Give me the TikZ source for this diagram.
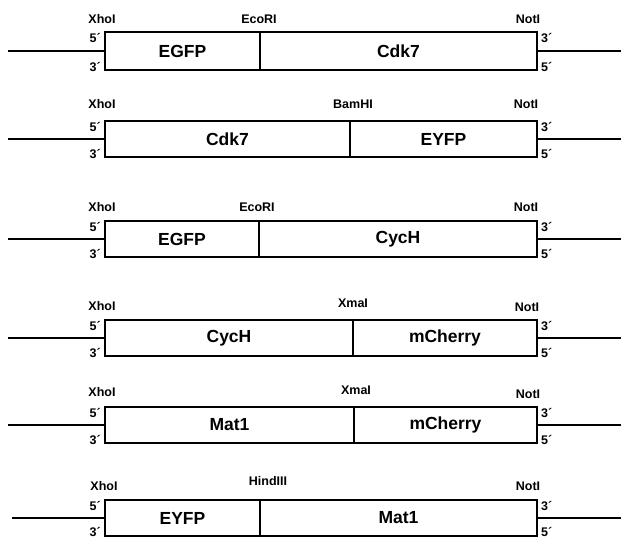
\documentclass[tikz,border=0pt]{standalone}
\usepackage{fontspec}
\setmainfont{Liberation Sans}
\usetikzlibrary{positioning}

\begin{document}
\begin{tikzpicture}[x=1pt,y=-1pt,
  part/.style={draw,line width=2.5pt,inner sep=0pt,outer sep=0pt,anchor=north west,font=\bfseries\fontsize{17.5}{19}\selectfont},
  site/.style={inner sep=0pt,font=\bfseries\fontsize{12.5}{14}\selectfont},
  endlabel/.style={inner sep=0pt,font=\bfseries\fontsize{12.5}{14}\selectfont},
  strand/.style={line width=2.5pt}]
\useasboundingbox (0,0) rectangle (621,541);

% EGFP-Cdk7
\node[part,minimum width=155pt,minimum height=38pt] (egfpA) at (105,32) {EGFP};
\node[part,minimum width=277pt,minimum height=38pt] (cdkA) at (260,32) {Cdk7};
\coordinate (inA) at (8,51);
\coordinate (outA) at (621,51);
\draw[strand] (inA) -- (egfpA.west);
\draw[strand] (cdkA.east) -- (outA);
\node[site] (xhoA) at (102,19) {XhoI};
\node[site] (ecoA) at (259,19) {EcoRI};
\node[site] (notA) at (528,19) {NotI};
\node[endlabel,anchor=east] (fiveA) at ([xshift=-4pt,yshift=-6pt]egfpA.north west) {5´};
\node[endlabel,anchor=east] (threeA) at ([xshift=-4pt,yshift=3pt]egfpA.south west) {3´};
\node[endlabel,anchor=west] (threeA2) at ([xshift=4pt,yshift=-6pt]cdkA.north east) {3´};
\node[endlabel,anchor=west] (fiveA2) at ([xshift=4pt,yshift=3pt]cdkA.south east) {5´};

% Cdk7-EYFP
\node[part,minimum width=245pt,minimum height=36pt] (cdkB) at (105,121) {Cdk7};
\node[part,minimum width=187pt,minimum height=36pt] (eyfpB) at (350,121) {EYFP};
\coordinate (inB) at (8,139);
\coordinate (outB) at (621,139);
\draw[strand] (inB) -- (cdkB.west);
\draw[strand] (eyfpB.east) -- (outB);
\node[site] (xhoB) at (102,104) {XhoI};
\node[site] (bamB) at (353,104) {BamHI};
\node[site] (notB) at (526,104) {NotI};
\node[endlabel,anchor=east] (fiveB) at ([xshift=-4pt,yshift=-6pt]cdkB.north west) {5´};
\node[endlabel,anchor=east] (threeB) at ([xshift=-4pt,yshift=3pt]cdkB.south west) {3´};
\node[endlabel,anchor=west] (threeB2) at ([xshift=4pt,yshift=-6pt]eyfpB.north east) {3´};
\node[endlabel,anchor=west] (fiveB2) at ([xshift=4pt,yshift=3pt]eyfpB.south east) {5´};

% EGFP-CycH
\node[part,minimum width=154pt,minimum height=36pt] (egfpC) at (105,221) {EGFP};
\node[part,minimum width=278pt,minimum height=36pt] (cycC) at (259,221) {CycH};
\coordinate (inC) at (8,239);
\coordinate (outC) at (621,239);
\draw[strand] (inC) -- (egfpC.west);
\draw[strand] (cycC.east) -- (outC);
\node[site] (xhoC) at (102,207) {XhoI};
\node[site] (ecoC) at (257,207) {EcoRI};
\node[site] (notC) at (526,207) {NotI};
\node[endlabel,anchor=east] (fiveC) at ([xshift=-4pt,yshift=-6pt]egfpC.north west) {5´};
\node[endlabel,anchor=east] (threeC) at ([xshift=-4pt,yshift=3pt]egfpC.south west) {3´};
\node[endlabel,anchor=west] (threeC2) at ([xshift=4pt,yshift=-6pt]cycC.north east) {3´};
\node[endlabel,anchor=west] (fiveC2) at ([xshift=4pt,yshift=3pt]cycC.south east) {5´};

% CycH-mCherry
\node[part,minimum width=248pt,minimum height=36pt] (cycD) at (105,320) {CycH};
\node[part,minimum width=184pt,minimum height=36pt] (cherryD) at (353,320) {mCherry};
\coordinate (inD) at (8,338);
\coordinate (outD) at (621,338);
\draw[strand] (inD) -- (cycD.west);
\draw[strand] (cherryD.east) -- (outD);
\node[site] (xhoD) at (102,306) {XhoI};
\node[site] (xmaD) at (353,303) {XmaI};
\node[site] (notD) at (527,307) {NotI};
\node[endlabel,anchor=east] (fiveD) at ([xshift=-4pt,yshift=-6pt]cycD.north west) {5´};
\node[endlabel,anchor=east] (threeD) at ([xshift=-4pt,yshift=3pt]cycD.south west) {3´};
\node[endlabel,anchor=west] (threeD2) at ([xshift=4pt,yshift=-6pt]cherryD.north east) {3´};
\node[endlabel,anchor=west] (fiveD2) at ([xshift=4pt,yshift=3pt]cherryD.south east) {5´};

% Mat1-mCherry
\node[part,minimum width=249pt,minimum height=36pt] (matE) at (105,407) {Mat1};
\node[part,minimum width=183pt,minimum height=36pt] (cherryE) at (354,407) {mCherry};
\coordinate (inE) at (8,425);
\coordinate (outE) at (621,425);
\draw[strand] (inE) -- (matE.west);
\draw[strand] (cherryE.east) -- (outE);
\node[site] (xhoE) at (102,392) {XhoI};
\node[site] (xmaE) at (356,390) {XmaI};
\node[site] (notE) at (528,394) {NotI};
\node[endlabel,anchor=east] (fiveE) at ([xshift=-4pt,yshift=-6pt]matE.north west) {5´};
\node[endlabel,anchor=east] (threeE) at ([xshift=-4pt,yshift=3pt]matE.south west) {3´};
\node[endlabel,anchor=west] (threeE2) at ([xshift=4pt,yshift=-6pt]cherryE.north east) {3´};
\node[endlabel,anchor=west] (fiveE2) at ([xshift=4pt,yshift=3pt]cherryE.south east) {5´};

% EYFP-Mat1
\node[part,minimum width=155pt,minimum height=36pt] (eyfpF) at (105,500) {EYFP};
\node[part,minimum width=277pt,minimum height=36pt] (matF) at (260,500) {Mat1};
\coordinate (inF) at (12,518);
\coordinate (outF) at (621,518);
\draw[strand] (inF) -- (eyfpF.west);
\draw[strand] (matF.east) -- (outF);
\node[site] (xhoF) at (104,486) {XhoI};
\node[site] (hindF) at (268,481) {HindIII};
\node[site] (notF) at (528,486) {NotI};
\node[endlabel,anchor=east] (fiveF) at ([xshift=-4pt,yshift=-6pt]eyfpF.north west) {5´};
\node[endlabel,anchor=east] (threeF) at ([xshift=-4pt,yshift=4pt]eyfpF.south west) {3´};
\node[endlabel,anchor=west] (threeF2) at ([xshift=4pt,yshift=-6pt]matF.north east) {3´};
\node[endlabel,anchor=west] (fiveF2) at ([xshift=4pt,yshift=4pt]matF.south east) {5´};
\end{tikzpicture}
\end{document}
